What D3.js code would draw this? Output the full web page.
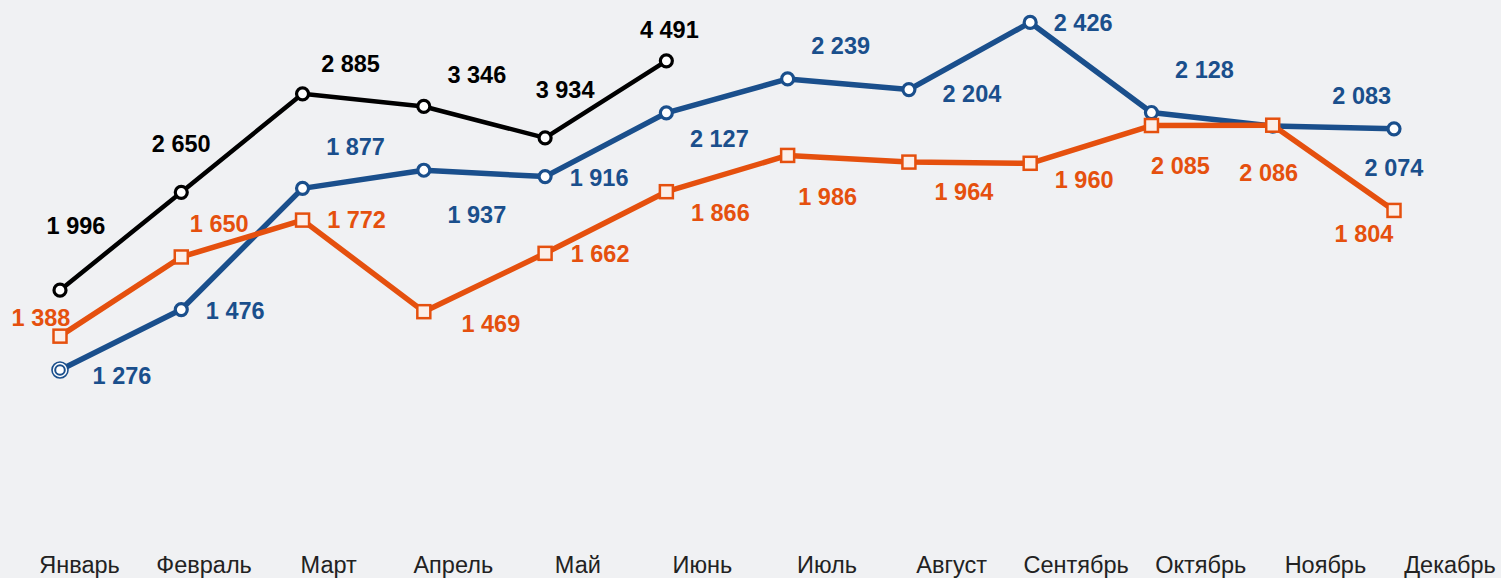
<!DOCTYPE html>
<html>
<head>
<meta charset="utf-8">
<script src="https://cdn.jsdelivr.net/npm/d3@7"></script>
<style>
  html, body { margin: 0; padding: 0; background: #f0f1f3; }
  svg { display: block; font-family: "Liberation Sans", Arial, sans-serif; }
</style>
</head>
<body>
<svg width="1501" height="578"></svg>
<script>
const months = ["Январь", "Февраль", "Март", "Апрель", "Май", "Июнь",
  "Июль", "Август", "Сентябрь", "Октябрь", "Ноябрь", "Декабрь"];

// blue and orange are plotted at their label values
const blueValues = [1276, 1476, 1877, 1937, 1916, 2127, 2239, 2204, 2426, 2128, 2083, 2074];
const orangeValues = [1388, 1650, 1772, 1469, 1662, 1866, 1986, 1964, 1960, 2085, 2086, 1804];

// black line: labels differ from where the points sit on the chart
const blackLabels = [1996, 2650, 2885, 3346, 3934, 4491];
const blackValues = [1540, 1864, 2190, 2148, 2044, 2299];

// label offsets from each point (dx, dy to label centre)
const blackLabelPos = [[16, -64], [0, -48], [48, -30], [53, -31], [20, -48], [3, -31]];
const blueLabelPos = [[62, 6], [54, 1], [53, -41], [53, 45], [54, 1], [53, 26],
  [53, -33], [63, 4], [53, 1], [53, -43], [89, -30], [0, 39]];
const orangeLabelPos = [[-19, -18], [38, -33], [54, 0], [67, 12], [55, 1], [54, 21],
  [40, 42], [55, 30], [54, 17], [29, 40], [-4, 48], [-30, 24]];

const svg = d3.select("svg");

const x = d3.scalePoint().domain(months).range([60, 1394]);
const xLabels = d3.scalePoint().domain(months).range([79.5, 1450]);
const y = d3.scaleLinear().domain([1000, 2500]).range([453.4, 0.1]);

const fmt = (v) => d3.format(",")(v).replace(",", " ");

const line = d3.line()
  .x((d, i) => x(months[i]))
  .y((d) => y(d));

function drawSeries(values, labels, pos, color, lineWidth, marker) {
  const g = svg.append("g");
  g.append("path")
    .datum(values)
    .attr("d", line)
    .attr("fill", "none")
    .attr("stroke", color)
    .attr("stroke-width", lineWidth)
    .attr("stroke-linejoin", "round");

  const pts = g.selectAll(".pt")
    .data(values)
    .enter()
    .append("g")
    .attr("transform", (d, i) => `translate(${x(months[i])},${y(d)})`);

  if (marker === "square") {
    pts.append("rect")
      .attr("x", -6.5).attr("y", -6.5)
      .attr("width", 13).attr("height", 13)
      .attr("fill", "#fbefe9")
      .attr("stroke", color)
      .attr("stroke-width", 2.5);
  } else {
    pts.each(function (d, i) {
      const p = d3.select(this);
      if (marker === "circleRing" && i === 0) {
        p.append("circle").attr("r", 8).attr("fill", "#fff")
          .attr("stroke", color).attr("stroke-width", 1.6);
        p.append("circle").attr("r", 4.8).attr("fill", "#fff")
          .attr("stroke", color).attr("stroke-width", 2);
      } else {
        p.append("circle").attr("r", 6).attr("fill", "#fff")
          .attr("stroke", color).attr("stroke-width", 3.2);
      }
    });
  }

  g.selectAll(".lbl")
    .data(labels)
    .enter()
    .append("text")
    .attr("x", (d, i) => x(months[i]) + pos[i][0])
    .attr("y", (d, i) => y(values[i]) + pos[i][1] + 8)
    .attr("text-anchor", "middle")
    .attr("font-size", 23.5)
    .attr("font-weight", "bold")
    .attr("fill", color)
    .text((d) => fmt(d));
}

drawSeries(blackValues, blackLabels, blackLabelPos, "#000000", 4.5, "circle");
drawSeries(blueValues, blueValues, blueLabelPos, "#1a4f8c", 5.5, "circleRing");
drawSeries(orangeValues, orangeValues, orangeLabelPos, "#e5500e", 5.5, "square");

svg.append("g")
  .selectAll("text")
  .data(months)
  .enter()
  .append("text")
  .attr("x", (d) => xLabels(d))
  .attr("y", 573)
  .attr("text-anchor", "middle")
  .attr("font-size", 23.5)
  .attr("fill", "#222")
  .text((d) => d);
</script>
</body>
</html>
